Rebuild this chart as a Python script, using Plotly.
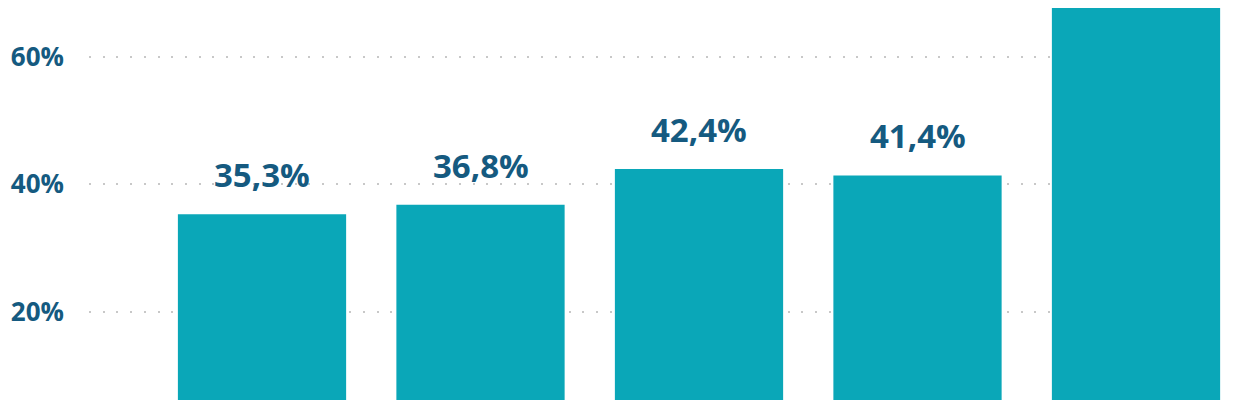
import plotly.graph_objects as go

categories = ["1", "2", "3", "4", "5"]
values = [35.3, 36.8, 42.4, 41.4, 68.1]
labels = ["35,3%", "36,8%", "42,4%", "41,4%", "68,1%"]
y_ticks = [20, 40, 60]
y_tick_labels = ["20%", "40%", "60%"]

BAR = "#0aa7b8"
TXT = "#155a80"
FONT = "Open Sans"
Y_RANGE = [6.13, 67.70]

fig = go.Figure()
fig.add_trace(go.Bar(
    x=list(range(len(categories))),
    y=values,
    marker=dict(color=BAR, line=dict(width=0)),
    width=0.77,
    hoverinfo="skip",
))

for i, (v, t) in enumerate(zip(values, labels)):
    if v < Y_RANGE[1] - 5:
        fig.add_annotation(
            x=i, y=v, text=t, showarrow=False,
            yanchor="bottom", yshift=15,
            font=dict(family=FONT, size=33, color=TXT, weight=700),
        )

fig.update_layout(
    width=1226, height=392,
    margin=dict(l=81, r=0, t=0, b=0, autoexpand=False),
    paper_bgcolor="white", plot_bgcolor="white",
    showlegend=False,
    xaxis=dict(
        range=[-0.7918, 4.4485],
        showticklabels=False, showgrid=False, zeroline=False,
        ticks="", fixedrange=True, automargin=False,
        tickvals=list(range(len(categories))), ticktext=categories,
    ),
    yaxis=dict(
        range=Y_RANGE, automargin=False,
        tickvals=y_ticks, ticktext=y_tick_labels,
        tickfont=dict(family=FONT, size=26, color=TXT, weight=700),
        showgrid=True, gridcolor="#c8c8c8", gridwidth=2,
        griddash="2px,11.7px",
        zeroline=False, ticks="", ticklabelstandoff=24,
    ),
)

fig.write_html("out.html")
